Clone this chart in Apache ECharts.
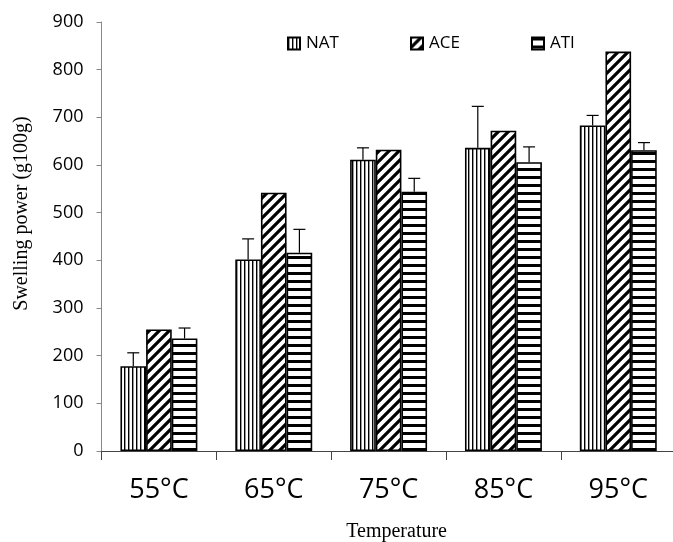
<!DOCTYPE html>
<html><head><meta charset="utf-8">
<script src="https://cdn.jsdelivr.net/npm/echarts@6/dist/echarts.min.js"></script>
<style>html,body{margin:0;padding:0;background:#fff}#c{width:673px;height:542px}</style>
</head><body><div id="c"></div>
<script>
const categories = ['55°C','65°C','75°C','85°C','95°C'];
const seriesNames = ['NAT','ACE','ATI'];
const natValues = [178, 402, 611, 636, 683];
const aceValues = [255, 542, 632, 672, 838];
const atiValues = [236, 416, 544, 606, 631];
const natErrTop = [206, 445, 636, 723, 704];
const aceErrTop = [255, 542, 632, 672, 838];
const atiErrTop = [258, 465, 572, 638, 647];
const yTicks = [0,100,200,300,400,500,600,700,800,900];

function pattern(type){
  const c = document.createElement('canvas');
  let ctx;
  if(type==='v'){
    c.width=4; c.height=4; ctx=c.getContext('2d');
    ctx.fillStyle='#fff'; ctx.fillRect(0,0,4,4);
    ctx.fillStyle='#000'; ctx.fillRect(0,0,1.4,4);
  } else if(type==='h'){
    c.width=8; c.height=8; ctx=c.getContext('2d');
    ctx.fillStyle='#fff'; ctx.fillRect(0,0,8,8);
    ctx.fillStyle='#000'; ctx.fillRect(0,0,8,3);
  } else {
    const s=10; c.width=s; c.height=s; ctx=c.getContext('2d');
    ctx.fillStyle='#fff'; ctx.fillRect(0,0,s,s);
    ctx.strokeStyle='#000'; ctx.lineWidth=3.2; ctx.lineCap='square';
    ctx.beginPath();
    ctx.moveTo(-s,s); ctx.lineTo(s,-s);
    ctx.moveTo(0,s*2); ctx.lineTo(s*2,0);
    ctx.moveTo(0,s); ctx.lineTo(s,0);
    ctx.stroke();
  }
  return {image:c, repeat:'repeat'};
}
const patterns = [pattern('v'), pattern('d'), pattern('h')];
const values = [natValues, aceValues, atiValues];
const errTops = [natErrTop, aceErrTop, atiErrTop];

const chart = echarts.init(document.getElementById('c'), null, {renderer:'canvas'});
const CAT_GAP = 0.33;

const barSeries = seriesNames.map((n,i)=>({
  name:n, type:'bar', data:values[i], barGap:'0%', barCategoryGap:'33%',
  itemStyle:{color:patterns[i], borderColor:'#000', borderWidth:1.6},
  emphasis:{disabled:true}, z:2
}));

const errData = [];
for(let s=0;s<3;s++) for(let k=0;k<categories.length;k++){
  if(errTops[s][k] > values[s][k]) errData.push([k, values[s][k], errTops[s][k], s]);
}
const errSeries = {
  type:'custom', name:'err', data:errData, z:5, silent:true,
  encode:{x:0,y:[1,2]},
  renderItem:(params, api)=>{
    const k=api.value(0), lo=api.value(1), hi=api.value(2), s=api.value(3);
    const band = api.size([1,0])[0];
    const bw = band*(1-CAT_GAP)/3;
    const c0 = api.coord([k, lo]);
    const c1 = api.coord([k, hi]);
    const x = c0[0] + (s-1)*bw;
    const cap = 6;
    return {type:'group', children:[
      {type:'line', shape:{x1:x,y1:c0[1],x2:x,y2:c1[1]}, style:{stroke:'#000',lineWidth:1.2}},
      {type:'line', shape:{x1:x-cap,y1:c1[1],x2:x+cap,y2:c1[1]}, style:{stroke:'#000',lineWidth:1.2}}
    ]};
  }
};

const legendBase = {top:35, padding:0, itemWidth:12, itemHeight:12, itemGap:4, icon:'rect',
  textStyle:{fontFamily:'Open Sans', fontSize:17, color:'#000', padding:[0,0,0,1]}, selectedMode:false};

chart.setOption({
  animation:false,
  backgroundColor:'#fff',
  legend:[
    Object.assign({}, legendBase, {left:287, data:['NAT']}),
    Object.assign({}, legendBase, {left:410, data:['ACE']}),
    Object.assign({}, legendBase, {left:531, data:['ATI']})
  ],
  grid:{left:101.5, right:-2.7, top:22, bottom:91, containLabel:false, outerBoundsMode:'none'},
  xAxis:{type:'category', data:categories,
    axisLine:{lineStyle:{color:'#444', width:1}},
    axisTick:{show:true, length:9, lineStyle:{color:'#444'}, alignWithLabel:false},
    axisLabel:{fontFamily:'Open Sans', fontSize:27, color:'#000', margin:26},
    name:'Temperature', nameLocation:'middle', nameGap:71,
    nameTextStyle:{fontFamily:'Liberation Serif', fontSize:20, color:'#000', padding:[0,0,0,16]}
  },
  yAxis:{type:'value', min:0, max:900, interval:100,
    axisLine:{show:true, lineStyle:{color:'#888', width:1}},
    axisTick:{show:true, length:5, lineStyle:{color:'#888'}},
    splitLine:{show:false},
    axisLabel:{fontFamily:'Open Sans', fontSize:18, color:'#000', margin:18,
      formatter:v=> yTicks.includes(v)? String(v):''},
    name:'Swelling power (g100g)', nameLocation:'middle', nameGap:70, nameRotate:90,
    nameTextStyle:{fontFamily:'Liberation Serif', fontSize:20, color:'#000', padding:[0,0,0,46]}
  },
  series:[...barSeries, errSeries]
});
</script></body></html>
